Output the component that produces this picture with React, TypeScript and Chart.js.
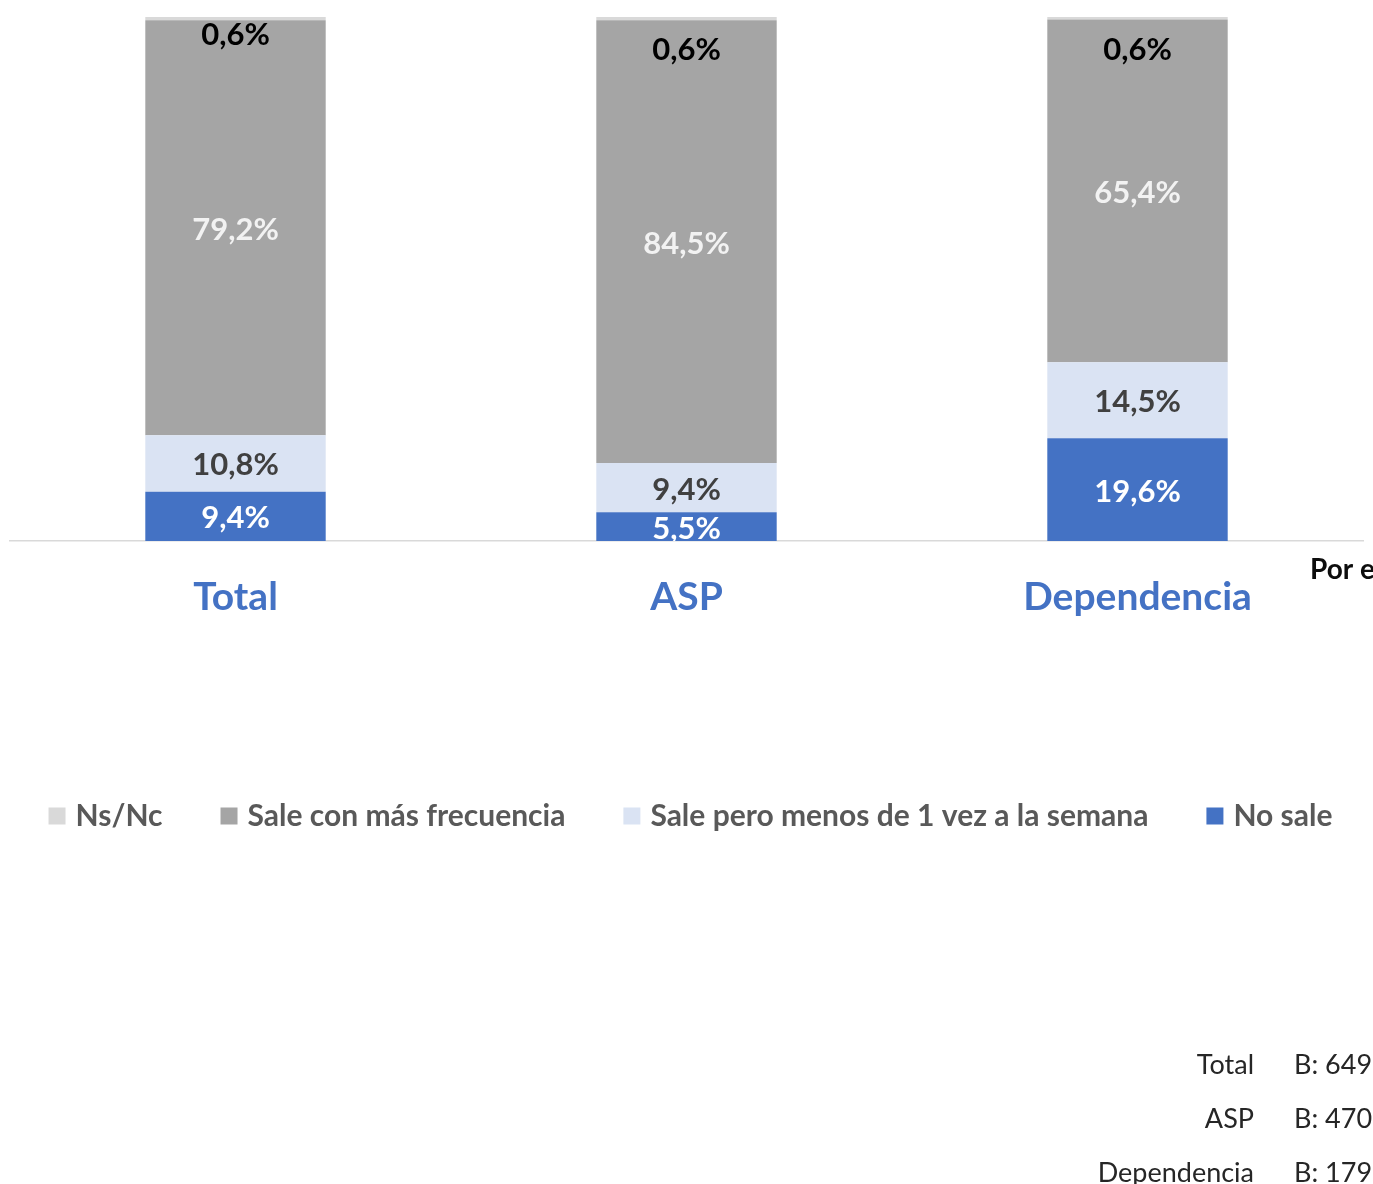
import React, { useEffect, useRef } from "react";
import { Chart, registerables } from "chart.js";

Chart.register(...registerables);

// Survey groups and the share of each answer (percent of respondents)
const categories = ["Total", "ASP", "Dependencia"];
const noSale = [9.4, 5.5, 19.6];
const saleMenos = [10.8, 9.4, 14.5];
const saleMas = [79.2, 84.5, 65.4];
const nsNc = [0.6, 0.6, 0.6];

// Sample bases shown in the footnote
const baseLabels = ["Total", "ASP", "Dependencia"];
const baseSizes = [649, 470, 179];

const sideTitle = "Por e";

const FONT = "Lato, 'Open Sans', sans-serif";
const W = 1373;
const H = 1184;

const fmt = (v: number) => v.toFixed(1).replace(".", ",") + "%";

// Label colour per dataset (index matches dataset order)
const labelColors = ["#ffffff", "#404040", "#f2f2f2", "#000000"];
// Ns/Nc label sits just under the top of each bar
const nsNcLabelDy = [18, 33, 33];

const valueLabels = {
  id: "valueLabels",
  afterDatasetsDraw(chart: any) {
    const { ctx, chartArea } = chart;
    ctx.save();
    ctx.beginPath();
    ctx.rect(chartArea.left, chartArea.top, chartArea.right - chartArea.left, chartArea.bottom - chartArea.top);
    ctx.clip();
    ctx.font = `bold 31px ${FONT}`;
    ctx.textAlign = "center";
    ctx.textBaseline = "middle";
    chart.data.datasets.forEach((ds: any, di: number) => {
      const meta = chart.getDatasetMeta(di);
      meta.data.forEach((el: any, i: number) => {
        const { x, y, base } = el.getProps(["x", "y", "base"], true);
        const cy = di === 3 ? chartArea.top + nsNcLabelDy[i] : (y + base) / 2 + 2;
        ctx.fillStyle = labelColors[di];
        ctx.fillText(fmt(ds.data[i]), x, cy);
      });
    });
    ctx.restore();
  },
};

const extras = {
  id: "extras",
  afterDraw(chart: any) {
    const { ctx } = chart;
    ctx.save();

    // side title, running off the right edge
    ctx.font = `bold 28px ${FONT}`;
    ctx.fillStyle = "#0d0d0d";
    ctx.textAlign = "left";
    ctx.textBaseline = "middle";
    ctx.fillText(sideTitle, 1310, 570);

    // legend, top series first
    const items = chart.data.datasets
      .map((ds: any) => ({ text: ds.label, color: ds.backgroundColor }))
      .reverse();
    ctx.font = `bold 30px ${FONT}`;
    const box = 17;
    const boxGap = 10;
    const itemGap = 58;
    const widths = items.map((it: any) => box + boxGap + ctx.measureText(it.text).width);
    const total = widths.reduce((a: number, b: number) => a + b, 0) + itemGap * (items.length - 1);
    let x = W / 2 + 4 - total / 2;
    const ly = 816;
    items.forEach((it: any, i: number) => {
      ctx.fillStyle = it.color;
      ctx.fillRect(x, ly - box / 2, box, box);
      ctx.fillStyle = "#595959";
      ctx.textAlign = "left";
      ctx.textBaseline = "middle";
      ctx.fillText(it.text, x + box + boxGap, ly);
      x += widths[i] + itemGap;
    });

    // sample bases
    ctx.font = `27px ${FONT}`;
    ctx.fillStyle = "#262626";
    baseLabels.forEach((lab, i) => {
      const y = 1065 + i * 54;
      ctx.textAlign = "right";
      ctx.fillText(lab, 1254, y);
      ctx.textAlign = "left";
      ctx.fillText("B: " + baseSizes[i], 1294, y);
    });
    ctx.restore();
  },
};

export default function App() {
  const ref = useRef<HTMLCanvasElement | null>(null);

  useEffect(() => {
    if (!ref.current) return;
    const chart = new Chart(ref.current, {
      type: "bar",
      data: {
        labels: categories,
        datasets: [
          { label: "No sale", data: noSale, backgroundColor: "#4472c4" },
          { label: "Sale pero menos de 1 vez a la semana", data: saleMenos, backgroundColor: "#dae3f3" },
          { label: "Sale con más frecuencia", data: saleMas, backgroundColor: "#a5a5a5" },
          { label: "Ns/Nc", data: nsNc, backgroundColor: "#d9d9d9" },
        ],
      },
      options: {
        responsive: false,
        animation: false,
        devicePixelRatio: 1,
        layout: { padding: { top: 17, left: 10, right: 10, bottom: H - 541 - 80 } },
        datasets: { bar: { barPercentage: 0.4, categoryPercentage: 1, borderWidth: 0 } },
        plugins: {
          legend: { display: false },
          tooltip: { enabled: false },
        },
        scales: {
          x: {
            stacked: true,
            grid: { display: false, drawTicks: false },
            border: { display: true, color: "#d9d9d9", width: 1.5 },
            ticks: {
              color: "#4472c4",
              font: { family: FONT, size: 39, weight: "bold" },
              padding: 33,
            },
            afterFit: (scale: any) => {
              scale.height = 80;
            },
          },
          y: {
            stacked: true,
            display: false,
            min: 0,
            max: 100,
          },
        },
      },
      plugins: [valueLabels, extras],
    });
    return () => chart.destroy();
  }, []);

  return (
    <div style={{ position: "absolute", left: 0, top: 0, width: W, height: H, background: "#fff" }}>
      <canvas ref={ref} width={W} height={H} />
    </div>
  );
}
